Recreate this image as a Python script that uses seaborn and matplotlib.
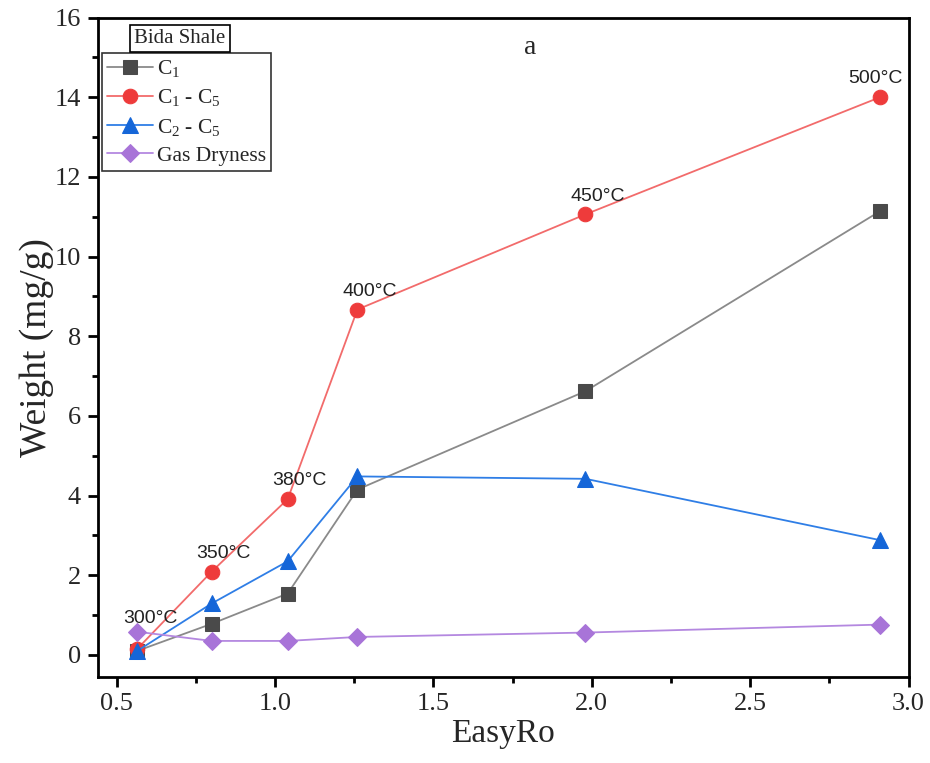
import matplotlib
matplotlib.use("Agg")
import matplotlib.pyplot as plt
import seaborn as sns
import pandas as pd
from matplotlib.ticker import MultipleLocator, FormatStrFormatter

# Pyrolysis gas yields vs. maturity (EasyRo)
easy_ro = [0.565, 0.80, 1.04, 1.26, 1.98, 2.91]
c1 = [0.10, 0.78, 1.54, 4.15, 6.62, 11.14]
c1_c5 = [0.15, 2.09, 3.91, 8.67, 11.06, 14.00]
c2_c5 = [0.10, 1.29, 2.35, 4.48, 4.42, 2.88]
gas_dryness = [0.58, 0.35, 0.35, 0.45, 0.56, 0.76]
temps = ["300°C", "350°C", "380°C", "400°C", "450°C", "500°C"]

sns.set_theme(style="white")
plt.rcParams["font.family"] = ["Liberation Serif", "DejaVu Serif"]
plt.rcParams["mathtext.fontset"] = "custom"
plt.rcParams["mathtext.rm"] = "Liberation Serif"
plt.rcParams["mathtext.it"] = "Liberation Serif:italic"

fig, ax = plt.subplots(figsize=(9.3, 7.63), dpi=100)
fig.subplots_adjust(left=0.105, right=0.977, top=0.977, bottom=0.113)

series = [
    ("C$_1$", c1, "#8a8a8a", "#4a4a4a", "s", 10),
    ("C$_1$ - C$_5$", c1_c5, "#f26b6b", "#ee3b3b", "o", 10.5),
    ("C$_2$ - C$_5$", c2_c5, "#2f7ee6", "#1566d8", "^", 11),
    ("Gas Dryness", gas_dryness, "#b488e0", "#a874d8", "D", 9),
]
for name, vals, lc, mc, mk, ms in series:
    df = pd.DataFrame({"EasyRo": easy_ro, "val": vals})
    sns.lineplot(data=df, x="EasyRo", y="val", ax=ax, color=lc, lw=1.3,
                 marker=mk, markersize=ms, markerfacecolor=mc,
                 markeredgecolor=mc, label=name)

# temperature labels above the C1-C5 points (offsets in points)
label_offsets = [(-10, 16), (-11, 7), (-11, 7), (-11, 7), (-11, 7), (-23, 7.5)]
for (xv, yv, t), off in zip(zip(easy_ro, c1_c5, temps), label_offsets):
    ax.annotate(t, (xv, yv), xytext=off, textcoords="offset points",
                fontsize=14, family=["Liberation Sans", "DejaVu Sans"],
                ha="left", va="bottom", color="#222222")

ax.set_xlim(0.44, 3.0)
ax.set_ylim(-0.55, 16)
ax.xaxis.set_major_locator(MultipleLocator(0.5))
ax.xaxis.set_minor_locator(MultipleLocator(0.25))
ax.yaxis.set_major_locator(MultipleLocator(2))
ax.yaxis.set_minor_locator(MultipleLocator(1))
ax.tick_params(axis="both", which="major", direction="out", length=7,
               width=2, labelsize=19, bottom=True, left=True, color="black",
               pad=5)
ax.tick_params(axis="both", which="minor", direction="out", length=4,
               width=2, bottom=True, left=True, color="black")
ax.xaxis.set_major_formatter(FormatStrFormatter("%.1f"))
for sp in ax.spines.values():
    sp.set_visible(True)
    sp.set_color("black")
    sp.set_linewidth(2)

ax.set_xlabel("EasyRo", fontsize=24, labelpad=2)
ax.set_ylabel("Weight (mg/g)", fontsize=27, labelpad=0)
ax.text(0.533, 0.955, "a", transform=ax.transAxes, fontsize=20,
        ha="center", va="center")

leg = ax.legend(loc="upper left", bbox_to_anchor=(0.0, 0.953),
                frameon=True, fontsize=15.5, handlelength=2.1,
                borderpad=0.25, labelspacing=0.38, handletextpad=0.2,
                borderaxespad=0.2, fancybox=False)
leg.get_frame().set_edgecolor("black")
leg.get_frame().set_linewidth(1.2)

ax.text(0.045, 0.968, "Bida Shale", transform=ax.transAxes, fontsize=15,
        ha="left", va="center",
        bbox=dict(boxstyle="square,pad=0.2", fc="white", ec="black", lw=1.2))

fig.savefig("out.png", dpi=100)
